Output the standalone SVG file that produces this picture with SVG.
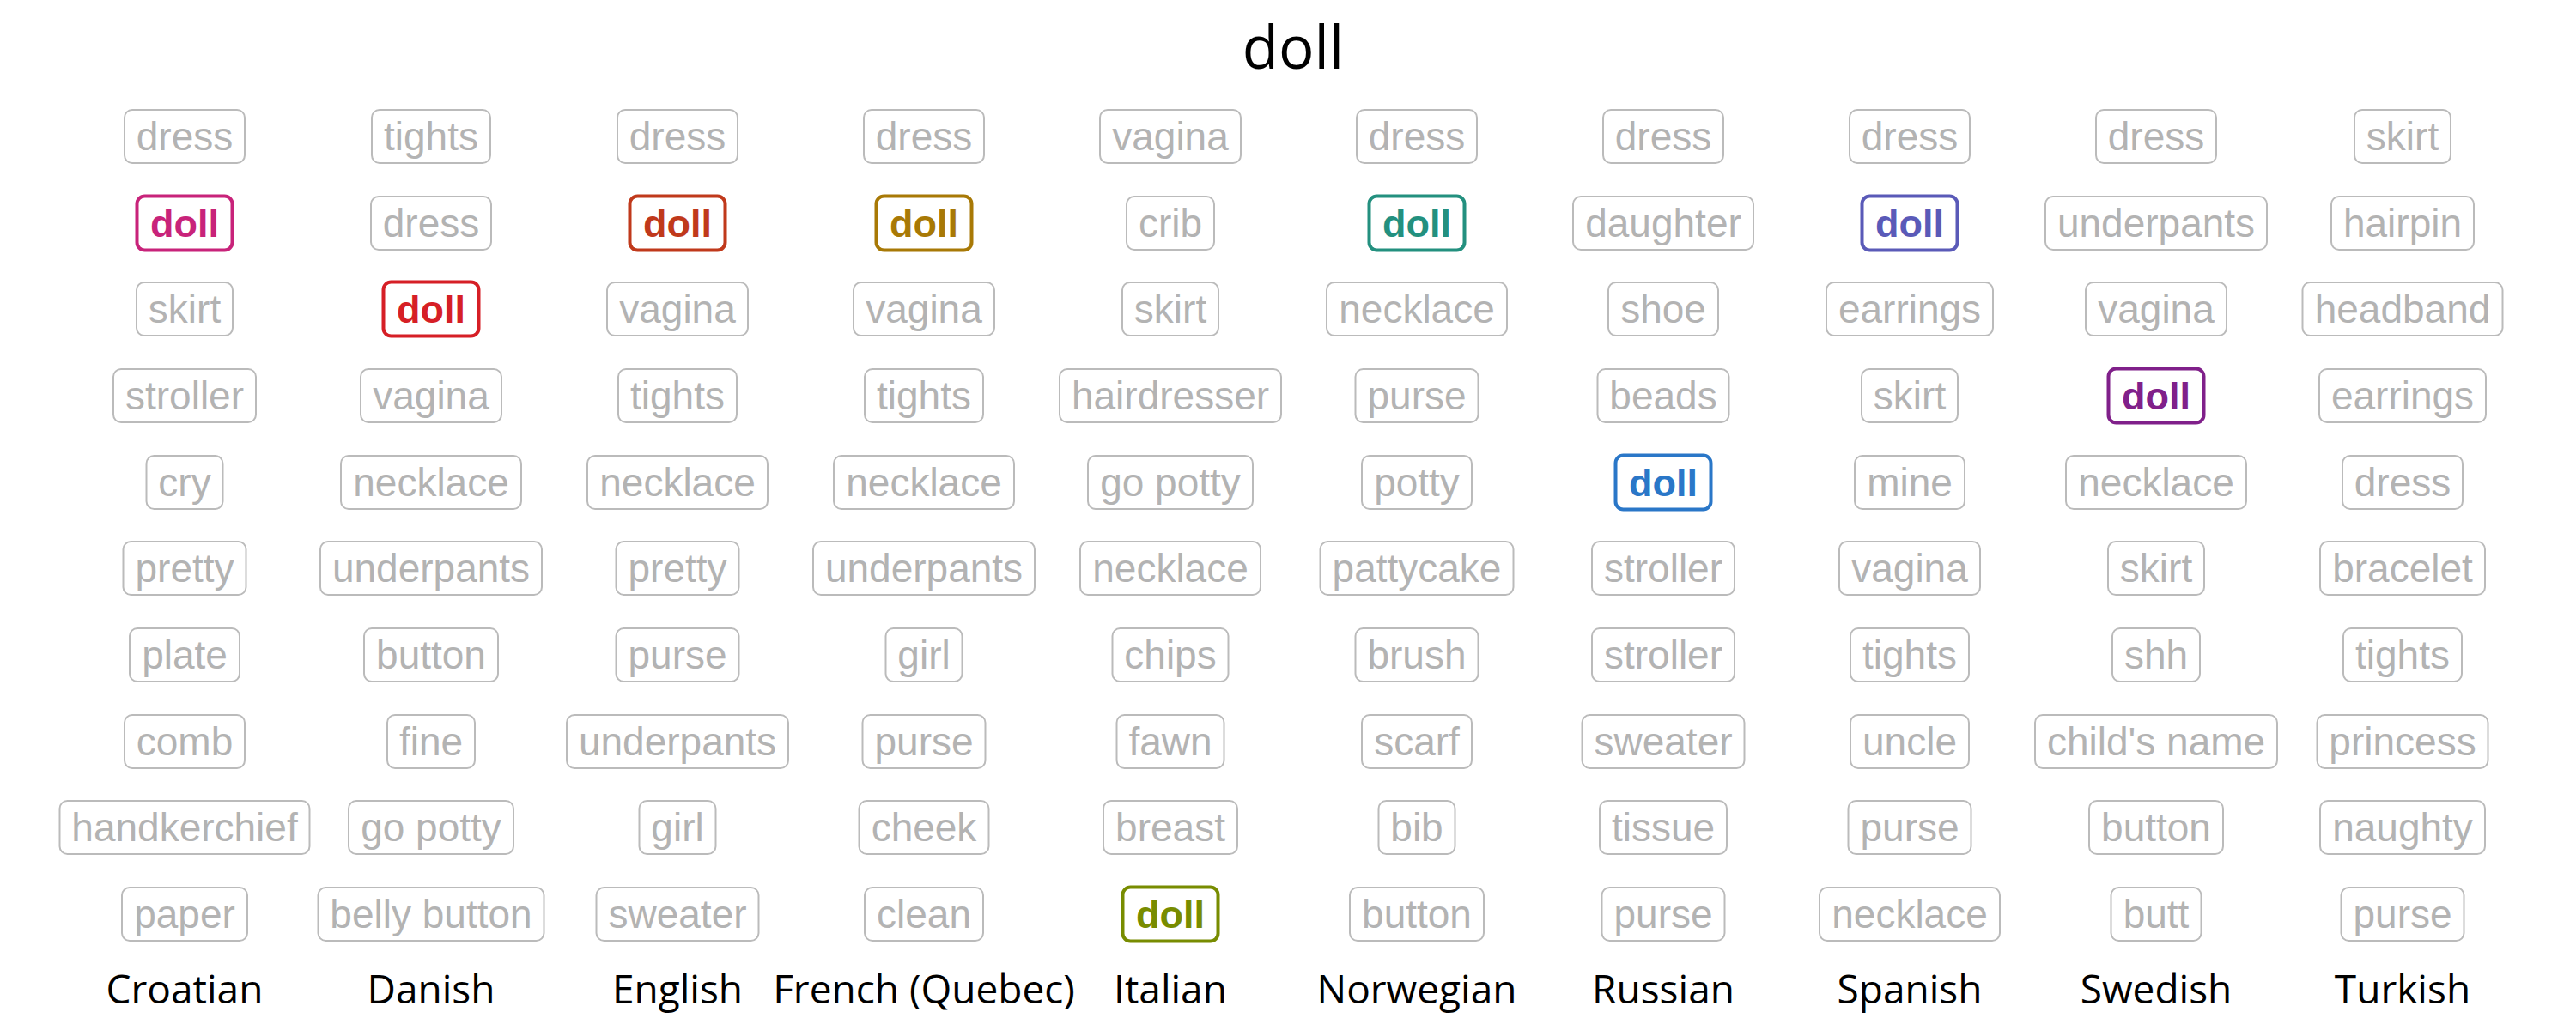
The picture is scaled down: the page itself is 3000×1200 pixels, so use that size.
<svg xmlns="http://www.w3.org/2000/svg" width="3000" height="1200" viewBox="0 0 3000 1200">
<style>
.g rect{fill:#fff;stroke:#bbbbbb;stroke-width:2}
.g text{font-family:"Liberation Sans",Arial,sans-serif;font-size:46px;fill:#b3b3b3;text-anchor:middle}
.d rect{fill:#fff;stroke-width:4}
.d text{font-family:"Liberation Sans",Arial,sans-serif;font-size:45px;font-weight:bold;text-anchor:middle}
.lab{font-family:"Open Sans",sans-serif;font-size:46px;fill:#000;text-anchor:middle}
.title{font-family:"Open Sans",sans-serif;font-size:69px;fill:#000;text-anchor:middle}
</style>
<rect width="3000" height="1200" fill="#fff"/>
<text class="title" x="1506" y="80">doll</text>
<g id="connectors"></g>

<!-- Croatian -->
<g id="hr-0" class="g" transform="translate(215,159)"><rect x="-70" y="-31" width="140" height="62" rx="9"/><text y="16">dress</text></g>
<g id="hr-1" class="d" transform="translate(215,260)"><rect x="-55.5" y="-31.5" width="111" height="63" rx="9" stroke="#c8237a"/><text y="16" fill="#c8237a">doll</text></g>
<g id="hr-2" class="g" transform="translate(215,360)"><rect x="-56" y="-31" width="112" height="62" rx="9"/><text y="16">skirt</text></g>
<g id="hr-3" class="g" transform="translate(215,461)"><rect x="-83" y="-31" width="166" height="62" rx="9"/><text y="16">stroller</text></g>
<g id="hr-4" class="g" transform="translate(215,562)"><rect x="-44.5" y="-31" width="89" height="62" rx="9"/><text y="16">cry</text></g>
<g id="hr-5" class="g" transform="translate(215,662)"><rect x="-71.5" y="-31" width="143" height="62" rx="9"/><text y="16">pretty</text></g>
<g id="hr-6" class="g" transform="translate(215,763)"><rect x="-64" y="-31" width="128" height="62" rx="9"/><text y="16">plate</text></g>
<g id="hr-7" class="g" transform="translate(215,864)"><rect x="-70" y="-31" width="140" height="62" rx="9"/><text y="16">comb</text></g>
<g id="hr-8" class="g" transform="translate(215,964)"><rect x="-145.5" y="-31" width="291" height="62" rx="9"/><text y="16">handkerchief</text></g>
<g id="hr-9" class="g" transform="translate(215,1065)"><rect x="-73" y="-31" width="146" height="62" rx="9"/><text y="16">paper</text></g>

<!-- Danish -->
<g id="da-0" class="g" transform="translate(502,159)"><rect x="-69" y="-31" width="138" height="62" rx="9"/><text y="16">tights</text></g>
<g id="da-1" class="g" transform="translate(502,260)"><rect x="-70" y="-31" width="140" height="62" rx="9"/><text y="16">dress</text></g>
<g id="da-2" class="d" transform="translate(502,360)"><rect x="-55.5" y="-31.5" width="111" height="63" rx="9" stroke="#d61f26"/><text y="16" fill="#d61f26">doll</text></g>
<g id="da-3" class="g" transform="translate(502,461)"><rect x="-82" y="-31" width="164" height="62" rx="9"/><text y="16">vagina</text></g>
<g id="da-4" class="g" transform="translate(502,562)"><rect x="-105" y="-31" width="210" height="62" rx="9"/><text y="16">necklace</text></g>
<g id="da-5" class="g" transform="translate(502,662)"><rect x="-129" y="-31" width="258" height="62" rx="9"/><text y="16">underpants</text></g>
<g id="da-6" class="g" transform="translate(502,763)"><rect x="-78" y="-31" width="156" height="62" rx="9"/><text y="16">button</text></g>
<g id="da-7" class="g" transform="translate(502,864)"><rect x="-51" y="-31" width="102" height="62" rx="9"/><text y="16">fine</text></g>
<g id="da-8" class="g" transform="translate(502,964)"><rect x="-96" y="-31" width="192" height="62" rx="9"/><text y="16">go potty</text></g>
<g id="da-9" class="g" transform="translate(502,1065)"><rect x="-131.5" y="-31" width="263" height="62" rx="9"/><text y="16">belly button</text></g>

<!-- English -->
<g id="en-0" class="g" transform="translate(789,159)"><rect x="-70" y="-31" width="140" height="62" rx="9"/><text y="16">dress</text></g>
<g id="en-1" class="d" transform="translate(789,260)"><rect x="-55.5" y="-31.5" width="111" height="63" rx="9" stroke="#c0391b"/><text y="16" fill="#c0391b">doll</text></g>
<g id="en-2" class="g" transform="translate(789,360)"><rect x="-82" y="-31" width="164" height="62" rx="9"/><text y="16">vagina</text></g>
<g id="en-3" class="g" transform="translate(789,461)"><rect x="-69" y="-31" width="138" height="62" rx="9"/><text y="16">tights</text></g>
<g id="en-4" class="g" transform="translate(789,562)"><rect x="-105" y="-31" width="210" height="62" rx="9"/><text y="16">necklace</text></g>
<g id="en-5" class="g" transform="translate(789,662)"><rect x="-71.5" y="-31" width="143" height="62" rx="9"/><text y="16">pretty</text></g>
<g id="en-6" class="g" transform="translate(789,763)"><rect x="-71.5" y="-31" width="143" height="62" rx="9"/><text y="16">purse</text></g>
<g id="en-7" class="g" transform="translate(789,864)"><rect x="-129" y="-31" width="258" height="62" rx="9"/><text y="16">underpants</text></g>
<g id="en-8" class="g" transform="translate(789,964)"><rect x="-44.5" y="-31" width="89" height="62" rx="9"/><text y="16">girl</text></g>
<g id="en-9" class="g" transform="translate(789,1065)"><rect x="-94.5" y="-31" width="189" height="62" rx="9"/><text y="16">sweater</text></g>

<!-- French (Quebec) -->
<g id="fr-0" class="g" transform="translate(1076,159)"><rect x="-70" y="-31" width="140" height="62" rx="9"/><text y="16">dress</text></g>
<g id="fr-1" class="d" transform="translate(1076,260)"><rect x="-55.5" y="-31.5" width="111" height="63" rx="9" stroke="#a87906"/><text y="16" fill="#a87906">doll</text></g>
<g id="fr-2" class="g" transform="translate(1076,360)"><rect x="-82" y="-31" width="164" height="62" rx="9"/><text y="16">vagina</text></g>
<g id="fr-3" class="g" transform="translate(1076,461)"><rect x="-69" y="-31" width="138" height="62" rx="9"/><text y="16">tights</text></g>
<g id="fr-4" class="g" transform="translate(1076,562)"><rect x="-105" y="-31" width="210" height="62" rx="9"/><text y="16">necklace</text></g>
<g id="fr-5" class="g" transform="translate(1076,662)"><rect x="-129" y="-31" width="258" height="62" rx="9"/><text y="16">underpants</text></g>
<g id="fr-6" class="g" transform="translate(1076,763)"><rect x="-44.5" y="-31" width="89" height="62" rx="9"/><text y="16">girl</text></g>
<g id="fr-7" class="g" transform="translate(1076,864)"><rect x="-71.5" y="-31" width="143" height="62" rx="9"/><text y="16">purse</text></g>
<g id="fr-8" class="g" transform="translate(1076,964)"><rect x="-75.5" y="-31" width="151" height="62" rx="9"/><text y="16">cheek</text></g>
<g id="fr-9" class="g" transform="translate(1076,1065)"><rect x="-69" y="-31" width="138" height="62" rx="9"/><text y="16">clean</text></g>

<!-- Italian -->
<g id="it-0" class="g" transform="translate(1363,159)"><rect x="-82" y="-31" width="164" height="62" rx="9"/><text y="16">vagina</text></g>
<g id="it-1" class="g" transform="translate(1363,260)"><rect x="-51" y="-31" width="102" height="62" rx="9"/><text y="16">crib</text></g>
<g id="it-2" class="g" transform="translate(1363,360)"><rect x="-56" y="-31" width="112" height="62" rx="9"/><text y="16">skirt</text></g>
<g id="it-3" class="g" transform="translate(1363,461)"><rect x="-129" y="-31" width="258" height="62" rx="9"/><text y="16">hairdresser</text></g>
<g id="it-4" class="g" transform="translate(1363,562)"><rect x="-96" y="-31" width="192" height="62" rx="9"/><text y="16">go potty</text></g>
<g id="it-5" class="g" transform="translate(1363,662)"><rect x="-105" y="-31" width="210" height="62" rx="9"/><text y="16">necklace</text></g>
<g id="it-6" class="g" transform="translate(1363,763)"><rect x="-67.5" y="-31" width="135" height="62" rx="9"/><text y="16">chips</text></g>
<g id="it-7" class="g" transform="translate(1363,864)"><rect x="-62.5" y="-31" width="125" height="62" rx="9"/><text y="16">fawn</text></g>
<g id="it-8" class="g" transform="translate(1363,964)"><rect x="-78" y="-31" width="156" height="62" rx="9"/><text y="16">breast</text></g>
<g id="it-9" class="d" transform="translate(1363,1065)"><rect x="-55.5" y="-31.5" width="111" height="63" rx="9" stroke="#788c00"/><text y="16" fill="#788c00">doll</text></g>

<!-- Norwegian -->
<g id="no-0" class="g" transform="translate(1650,159)"><rect x="-70" y="-31" width="140" height="62" rx="9"/><text y="16">dress</text></g>
<g id="no-1" class="d" transform="translate(1650,260)"><rect x="-55.5" y="-31.5" width="111" height="63" rx="9" stroke="#23907f"/><text y="16" fill="#23907f">doll</text></g>
<g id="no-2" class="g" transform="translate(1650,360)"><rect x="-105" y="-31" width="210" height="62" rx="9"/><text y="16">necklace</text></g>
<g id="no-3" class="g" transform="translate(1650,461)"><rect x="-71.5" y="-31" width="143" height="62" rx="9"/><text y="16">purse</text></g>
<g id="no-4" class="g" transform="translate(1650,562)"><rect x="-64" y="-31" width="128" height="62" rx="9"/><text y="16">potty</text></g>
<g id="no-5" class="g" transform="translate(1650,662)"><rect x="-112.5" y="-31" width="225" height="62" rx="9"/><text y="16">pattycake</text></g>
<g id="no-6" class="g" transform="translate(1650,763)"><rect x="-71.5" y="-31" width="143" height="62" rx="9"/><text y="16">brush</text></g>
<g id="no-7" class="g" transform="translate(1650,864)"><rect x="-64" y="-31" width="128" height="62" rx="9"/><text y="16">scarf</text></g>
<g id="no-8" class="g" transform="translate(1650,964)"><rect x="-44.5" y="-31" width="89" height="62" rx="9"/><text y="16">bib</text></g>
<g id="no-9" class="g" transform="translate(1650,1065)"><rect x="-78" y="-31" width="156" height="62" rx="9"/><text y="16">button</text></g>

<!-- Russian -->
<g id="ru-0" class="g" transform="translate(1937,159)"><rect x="-70" y="-31" width="140" height="62" rx="9"/><text y="16">dress</text></g>
<g id="ru-1" class="g" transform="translate(1937,260)"><rect x="-105" y="-31" width="210" height="62" rx="9"/><text y="16">daughter</text></g>
<g id="ru-2" class="g" transform="translate(1937,360)"><rect x="-64" y="-31" width="128" height="62" rx="9"/><text y="16">shoe</text></g>
<g id="ru-3" class="g" transform="translate(1937,461)"><rect x="-76.5" y="-31" width="153" height="62" rx="9"/><text y="16">beads</text></g>
<g id="ru-4" class="d" transform="translate(1937,562)"><rect x="-55.5" y="-31.5" width="111" height="63" rx="9" stroke="#2a77c8"/><text y="16" fill="#2a77c8">doll</text></g>
<g id="ru-5" class="g" transform="translate(1937,662)"><rect x="-83" y="-31" width="166" height="62" rx="9"/><text y="16">stroller</text></g>
<g id="ru-6" class="g" transform="translate(1937,763)"><rect x="-83" y="-31" width="166" height="62" rx="9"/><text y="16">stroller</text></g>
<g id="ru-7" class="g" transform="translate(1937,864)"><rect x="-94.5" y="-31" width="189" height="62" rx="9"/><text y="16">sweater</text></g>
<g id="ru-8" class="g" transform="translate(1937,964)"><rect x="-74" y="-31" width="148" height="62" rx="9"/><text y="16">tissue</text></g>
<g id="ru-9" class="g" transform="translate(1937,1065)"><rect x="-71.5" y="-31" width="143" height="62" rx="9"/><text y="16">purse</text></g>

<!-- Spanish -->
<g id="es-0" class="g" transform="translate(2224,159)"><rect x="-70" y="-31" width="140" height="62" rx="9"/><text y="16">dress</text></g>
<g id="es-1" class="d" transform="translate(2224,260)"><rect x="-55.5" y="-31.5" width="111" height="63" rx="9" stroke="#5a5ab8"/><text y="16" fill="#5a5ab8">doll</text></g>
<g id="es-2" class="g" transform="translate(2224,360)"><rect x="-97" y="-31" width="194" height="62" rx="9"/><text y="16">earrings</text></g>
<g id="es-3" class="g" transform="translate(2224,461)"><rect x="-56" y="-31" width="112" height="62" rx="9"/><text y="16">skirt</text></g>
<g id="es-4" class="g" transform="translate(2224,562)"><rect x="-64" y="-31" width="128" height="62" rx="9"/><text y="16">mine</text></g>
<g id="es-5" class="g" transform="translate(2224,662)"><rect x="-82" y="-31" width="164" height="62" rx="9"/><text y="16">vagina</text></g>
<g id="es-6" class="g" transform="translate(2224,763)"><rect x="-69" y="-31" width="138" height="62" rx="9"/><text y="16">tights</text></g>
<g id="es-7" class="g" transform="translate(2224,864)"><rect x="-69" y="-31" width="138" height="62" rx="9"/><text y="16">uncle</text></g>
<g id="es-8" class="g" transform="translate(2224,964)"><rect x="-71.5" y="-31" width="143" height="62" rx="9"/><text y="16">purse</text></g>
<g id="es-9" class="g" transform="translate(2224,1065)"><rect x="-105" y="-31" width="210" height="62" rx="9"/><text y="16">necklace</text></g>

<!-- Swedish -->
<g id="sv-0" class="g" transform="translate(2511,159)"><rect x="-70" y="-31" width="140" height="62" rx="9"/><text y="16">dress</text></g>
<g id="sv-1" class="g" transform="translate(2511,260)"><rect x="-129" y="-31" width="258" height="62" rx="9"/><text y="16">underpants</text></g>
<g id="sv-2" class="g" transform="translate(2511,360)"><rect x="-82" y="-31" width="164" height="62" rx="9"/><text y="16">vagina</text></g>
<g id="sv-3" class="d" transform="translate(2511,461)"><rect x="-55.5" y="-31.5" width="111" height="63" rx="9" stroke="#80208a"/><text y="16" fill="#80208a">doll</text></g>
<g id="sv-4" class="g" transform="translate(2511,562)"><rect x="-105" y="-31" width="210" height="62" rx="9"/><text y="16">necklace</text></g>
<g id="sv-5" class="g" transform="translate(2511,662)"><rect x="-56" y="-31" width="112" height="62" rx="9"/><text y="16">skirt</text></g>
<g id="sv-6" class="g" transform="translate(2511,763)"><rect x="-51" y="-31" width="102" height="62" rx="9"/><text y="16">shh</text></g>
<g id="sv-7" class="g" transform="translate(2511,864)"><rect x="-141" y="-31" width="282" height="62" rx="9"/><text y="16">child's name</text></g>
<g id="sv-8" class="g" transform="translate(2511,964)"><rect x="-78" y="-31" width="156" height="62" rx="9"/><text y="16">button</text></g>
<g id="sv-9" class="g" transform="translate(2511,1065)"><rect x="-52.5" y="-31" width="105" height="62" rx="9"/><text y="16">butt</text></g>

<!-- Turkish -->
<g id="tr-0" class="g" transform="translate(2798,159)"><rect x="-56" y="-31" width="112" height="62" rx="9"/><text y="16">skirt</text></g>
<g id="tr-1" class="g" transform="translate(2798,260)"><rect x="-83" y="-31" width="166" height="62" rx="9"/><text y="16">hairpin</text></g>
<g id="tr-2" class="g" transform="translate(2798,360)"><rect x="-116.5" y="-31" width="233" height="62" rx="9"/><text y="16">headband</text></g>
<g id="tr-3" class="g" transform="translate(2798,461)"><rect x="-97" y="-31" width="194" height="62" rx="9"/><text y="16">earrings</text></g>
<g id="tr-4" class="g" transform="translate(2798,562)"><rect x="-70" y="-31" width="140" height="62" rx="9"/><text y="16">dress</text></g>
<g id="tr-5" class="g" transform="translate(2798,662)"><rect x="-96" y="-31" width="192" height="62" rx="9"/><text y="16">bracelet</text></g>
<g id="tr-6" class="g" transform="translate(2798,763)"><rect x="-69" y="-31" width="138" height="62" rx="9"/><text y="16">tights</text></g>
<g id="tr-7" class="g" transform="translate(2798,864)"><rect x="-99.5" y="-31" width="199" height="62" rx="9"/><text y="16">princess</text></g>
<g id="tr-8" class="g" transform="translate(2798,964)"><rect x="-96" y="-31" width="192" height="62" rx="9"/><text y="16">naughty</text></g>
<g id="tr-9" class="g" transform="translate(2798,1065)"><rect x="-71.5" y="-31" width="143" height="62" rx="9"/><text y="16">purse</text></g>

<!-- column labels -->
<g id="labels">
<text class="lab" x="215" y="1169">Croatian</text>
<text class="lab" x="502" y="1169">Danish</text>
<text class="lab" x="789" y="1169">English</text>
<text class="lab" x="1076" y="1169">French (Quebec)</text>
<text class="lab" x="1363" y="1169">Italian</text>
<text class="lab" x="1650" y="1169">Norwegian</text>
<text class="lab" x="1937" y="1169">Russian</text>
<text class="lab" x="2224" y="1169">Spanish</text>
<text class="lab" x="2511" y="1169">Swedish</text>
<text class="lab" x="2798" y="1169">Turkish</text>
</g>
</svg>
